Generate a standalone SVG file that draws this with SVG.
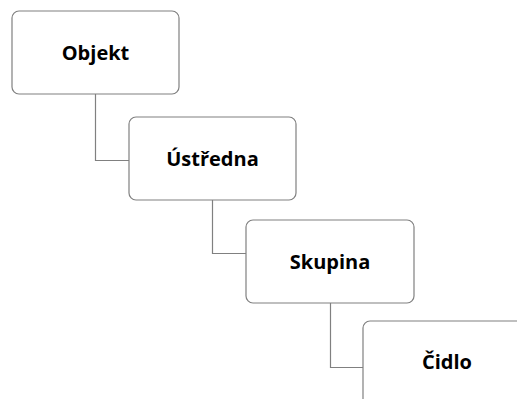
<svg xmlns="http://www.w3.org/2000/svg" width="517" height="399" viewBox="0 0 517 399">
<style>
.box{fill:#fff;stroke:#808080;stroke-width:1.2}
.lbl{font-family:"Open Sans","Liberation Sans",sans-serif;font-weight:bold;font-size:20px;fill:#000;text-anchor:middle}
.con{fill:none;stroke:#808080;stroke-width:1.2}
</style>
<rect width="517" height="399" fill="#fff"/>
<g id="connectors">
<polyline class="con" points="95.5,94 95.5,160.5 129,160.5"/>
<polyline class="con" points="212.5,200 212.5,253.5 246,253.5"/>
<polyline class="con" points="330.5,303 330.5,367.5 363,367.5"/>
</g>
<g id="objekt">
<rect class="box" x="12" y="11" width="167" height="83" rx="7"/>
<text class="lbl" x="95.5" y="60">Objekt</text>
</g>
<g id="ustredna">
<rect class="box" x="129" y="117" width="167" height="83" rx="7"/>
<text class="lbl" x="212.5" y="166">Ústředna</text>
</g>
<g id="skupina">
<rect class="box" x="246" y="220" width="168" height="83" rx="7"/>
<text class="lbl" x="330" y="269">Skupina</text>
</g>
<g id="cidlo">
<rect class="box" x="363" y="321" width="168" height="90" rx="7"/>
<text class="lbl" x="447" y="369">Čidlo</text>
</g>
</svg>
